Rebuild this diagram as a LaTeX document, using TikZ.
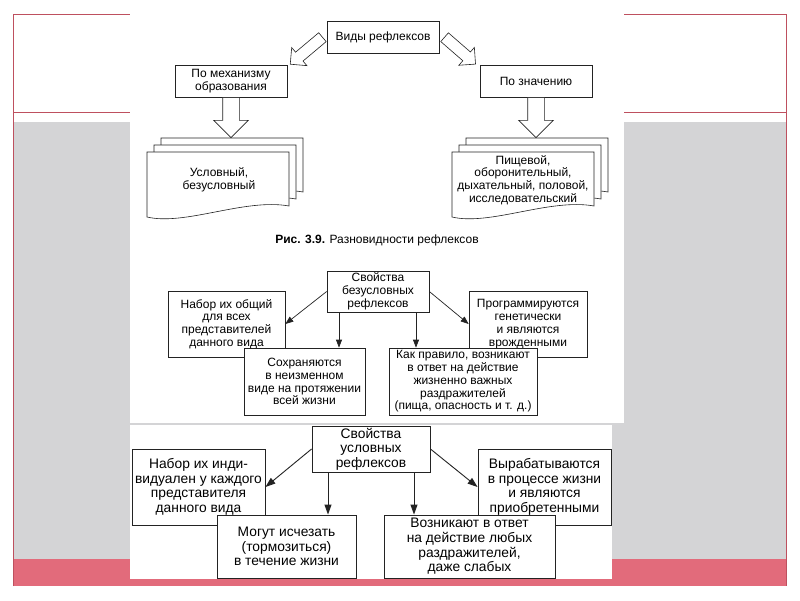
\documentclass[tikz,border=0pt]{standalone}
\usepackage{fontspec}
\setmainfont{Liberation Sans}
\usetikzlibrary{arrows.meta,shapes.arrows,calc}
\definecolor{framered}{RGB}{190,80,95}
\definecolor{bandpink}{RGB}{226,107,123}
\definecolor{slidegray}{RGB}{212,212,214}
\definecolor{ink}{RGB}{35,35,35}
\tikzset{every picture/.append style={x=1pt, y=-1pt}}
\tikzset{
    box/.style={draw=ink, fill=white, align=center, inner sep=0pt, line width=.7pt},
    topbox/.style={box, font=\fontsize{12}{13}\selectfont},
    midbox/.style={box, font=\fontsize{12}{12.8}\selectfont},
    lowbox/.style={box, line width=.9pt, font=\fontsize{13.8}{14.6}\selectfont},
    fatarrow/.style={single arrow, draw=ink, fill=white, line width=.6pt,
        inner sep=8pt, single arrow head extend=9pt, minimum height=#1, anchor=tail},
    thinarrow/.style={fatarrow=#1, inner sep=5.5pt, single arrow head extend=6pt},
    link/.style={draw=ink, line width=.7pt, -{Triangle[length=8pt,width=6pt]}},
    linkb/.style={link, line width=.9pt, -{Triangle[length=10pt,width=7pt]}}
}
% three stacked pages, #1 = left, #2 = top of the front page
\newcommand{\docstack}[2]{%
    \foreach \off in {14,7,0}
        \draw[draw=ink, fill=white, line width=.6pt] (#1+\off,#2-\off) -- (#1+\off+142,#2-\off)
            -- (#1+\off+142,#2-\off+54)
            .. controls (#1+\off+98,#2-\off+46) and (#1+\off+38,#2-\off+74) .. (#1+\off,#2-\off+65)
            -- cycle;
}

\begin{document}
\begin{tikzpicture}
	% slide
	\fill[white] (0,0) rectangle (800,600);
	\fill[slidegray] (13,122) rectangle (786,559);
	\fill[bandpink] (13,559) rectangle (786,586);
	\draw[framered, line width=.8pt] (13,586) -- (13,14) -- (786,14) -- (786,586)
		(13,112) -- (786,112);
	\fill[white] (130,0) rectangle (624,423);
	\fill[white] (130,425) rectangle (612,579);

	% kinds of reflexes
	\node[topbox, minimum width=112pt, minimum height=32pt] (kinds) at (383,37) {Виды рефлексов};
	\node[topbox, minimum width=112pt, minimum height=32pt] (bymech) at (231,81) {По механизму\\образования};
	\node[topbox, minimum width=112pt, minimum height=32pt] (byvalue) at (536,81) {По значению};
	\node[thinarrow=42pt, rotate=-140] (arrmech) at ([xshift=-4pt]kinds.west) {};
	\node[thinarrow=41pt, rotate=-41] (arrvalue) at ([xshift=5pt]kinds.east) {};
	\node[fatarrow=40pt, rotate=-90] (downmech) at (bymech.south) {};
	\node[fatarrow=40pt, rotate=-90] (downvalue) at (byvalue.south) {};
	\docstack{147}{152}
	\docstack{452}{152}
	\node[font=\fontsize{12}{13}\selectfont, align=center] (mechlist) at (219,180) {Условный,\\безусловный};
	\node[font=\fontsize{12}{12.8}\selectfont, align=center] (valuelist) at (523,180)
		{Пищевой,\\оборонительный,\\дыхательный, половой,\\исследовательский};
	\node[font=\fontsize{12}{13}\selectfont] (caption) at (377,240) {\textbf{Рис. 3.9.} Разновидности рефлексов};

	% unconditioned reflexes
	\node[midbox, minimum width=117pt, minimum height=66pt] (innate1) at (226.5,324)
		{Набор их общий\\для всех\\представителей\\данного вида};
	\node[midbox, minimum width=118pt, minimum height=66pt] (innate4) at (528,324)
		{Программируются\\генетически\\и являются\\врожденными};
	\node[midbox, minimum width=121pt, minimum height=67pt] (innate2) at (304.5,381.5)
		{Сохраняются\\в неизменном\\виде на протяжении\\всей жизни};
	\node[midbox, minimum width=148pt, minimum height=67pt] (innate3) at (463,381.5)
		{Как правило, возникают\\в ответ на действие\\жизненно важных\\раздражителей\\(пища, опасность и т. д.)};
	\node[midbox, minimum width=102pt, minimum height=41pt] (innate) at (378,291.5)
		{Свойства\\безусловных\\рефлексов};
	\coordinate (ia) at ($(innate.south)+(-39,0)$);
	\coordinate (ib) at ($(innate.south)+(38,0)$);
	\draw[link] (innate.west) -- (innate1.east);
	\draw[link] (innate.east) -- (innate4.west);
	\draw[link] (ia) -- (ia |- innate2.north);
	\draw[link] (ib) -- (ib |- innate3.north);

	% conditioned reflexes
	\node[lowbox, minimum width=133pt, minimum height=76pt] (acq1) at (198.5,487)
		{Набор их инди-\\видуален у каждого\\представителя\\данного вида};
	\node[lowbox, minimum width=133pt, minimum height=76pt] (acq4) at (544.5,487)
		{Вырабатываются\\в процессе жизни\\и являются\\приобретенными};
	\node[lowbox, minimum width=139pt, minimum height=63pt] (acq2) at (286.5,546.5)
		{Могут исчезать\\(тормозиться)\\в течение жизни};
	\node[lowbox, minimum width=171pt, minimum height=63pt] (acq3) at (469.5,546.5)
		{Возникают в ответ\\на действие любых\\раздражителей,\\даже слабых};
	\node[lowbox, minimum width=118pt, minimum height=46pt] (acq) at (371,449)
		{Свойства\\условных\\рефлексов};
	\coordinate (ca) at ($(acq.south)+(-43,0)$);
	\coordinate (cb) at ($(acq.south)+(43,0)$);
	\draw[linkb] (acq.west) -- (acq1.east);
	\draw[linkb] (acq.east) -- (acq4.west);
	\draw[linkb] (ca) -- (ca |- acq2.north);
	\draw[linkb] (cb) -- (cb |- acq3.north);
\end{tikzpicture}
\end{document}
